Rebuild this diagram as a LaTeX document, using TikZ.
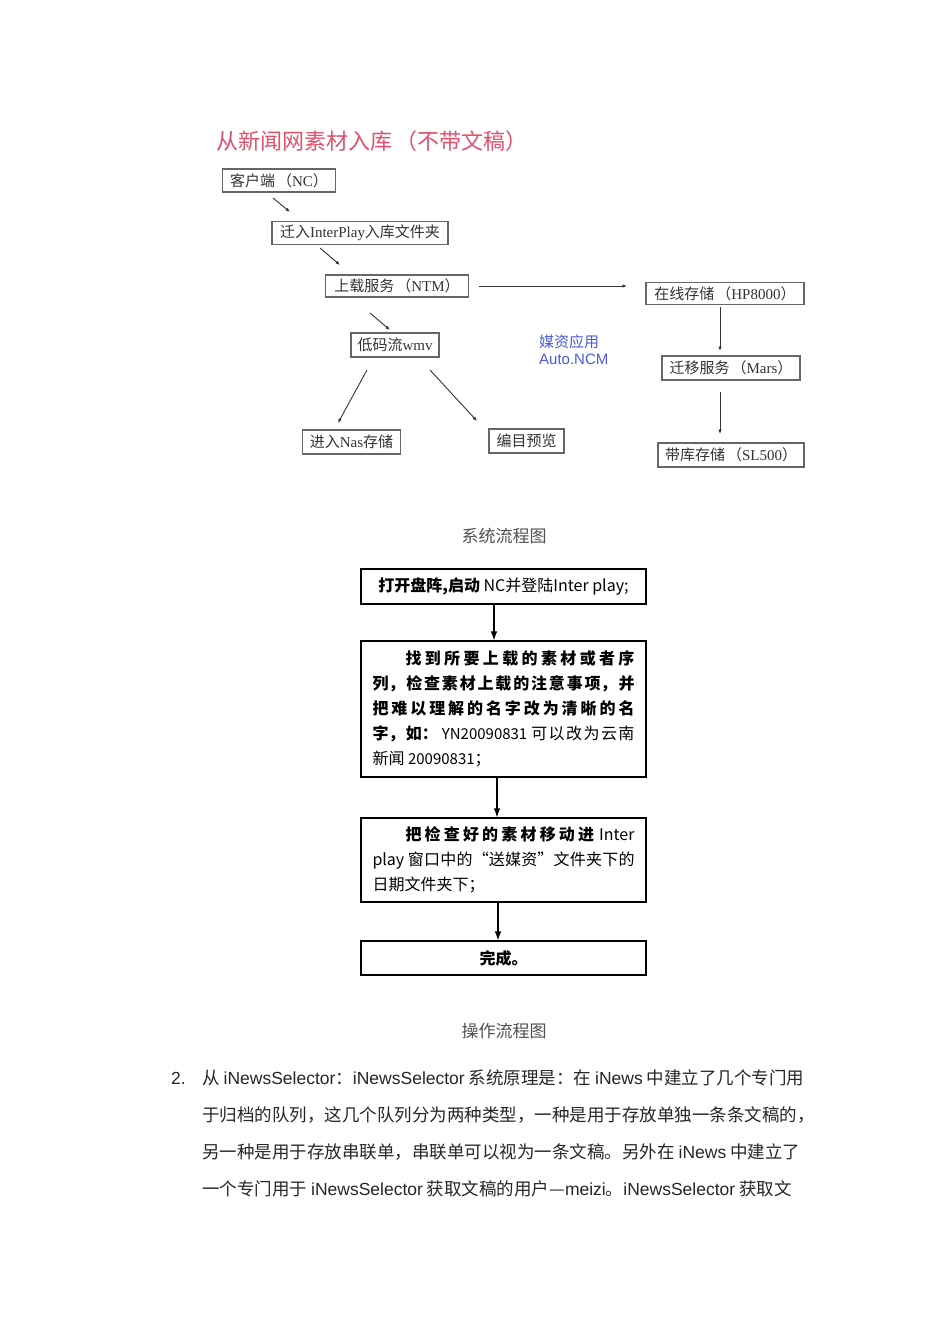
\documentclass[tikz,border=0pt]{standalone}
\usepackage{fontspec}
\setmainfont{Liberation Serif}
\newfontfamily\cjk{Noto Sans CJK SC}
\newfontfamily\lsans{Liberation Sans}
\usetikzlibrary{arrows.meta}
\XeTeXlinebreaklocale "zh"
\XeTeXlinebreakskip=0pt plus 4pt
\definecolor{topgray}{HTML}{333333}
\definecolor{boxgray}{HTML}{666666}
\definecolor{titlered}{HTML}{E2506C}
\definecolor{ncmblue}{HTML}{4A5AE0}
\definecolor{capgray}{HTML}{505050}
\definecolor{bodygray}{HTML}{262626}
\newcommand\enw[1]{{\lsans #1}}
\newcommand\rml[1]{{\rmfamily #1}}
\newcommand\lp{\hspace{2pt}（}
\newcommand\rp{）}
\begin{document}
\begin{tikzpicture}[x=1pt,y=-1pt,
  tbox/.style={draw=boxgray,line width=1.1pt,inner sep=0pt,text=topgray,
    font=\cjk\fontsize{15}{17}\selectfont},
  tarr/.style={draw=topgray,line width=0.9pt,-{Latex[length=4.5pt,width=3.5pt]}},
  fbox/.style={draw=black,line width=1.1pt,inner sep=0pt,minimum width=285pt,
    font=\cjk\fontsize{16}{25}\selectfont},
  ftext/.style={fbox,text width=262pt,align=justify,inner xsep=11.5pt},
  farr/.style={draw=black,line width=1.1pt,-{Latex[length=9pt,width=6.5pt]}},
  captext/.style={text=capgray,font=\cjk\fontsize{17}{20}\selectfont},
  body/.style={anchor=west,inner sep=0pt,text=bodygray,font=\cjk\fontsize{17.5}{20}\selectfont}]
\fill[white] (0,0) rectangle (950,1344);

% ---------- top chart ----------
\node[text=titlered,font=\cjk\fontsize{22}{25}\selectfont] (title) at (372,141) {从新闻网素材入库\hspace{4pt}（不带文稿）};

\node[tbox,minimum width=113pt,minimum height=23pt] (t1) at (279,180.5) {客户端\lp\rml{NC}\rp};
\node[tbox,minimum width=176pt,minimum height=23pt] (t2) at (360,233) {迁入\rml{InterPlay}入库文件夹};
\node[tbox,minimum width=143pt,minimum height=22pt] (t3) at (397,286) {上载服务\lp\rml{NTM}\rp};
\node[tbox,minimum width=158pt,minimum height=22pt] (t4) at (725,293.5) {在线存储\lp\rml{HP8000}\rp};
\node[tbox,minimum width=138pt,minimum height=24pt] (t5) at (731,368) {迁移服务\lp\rml{Mars}\rp};
\node[tbox,minimum width=146pt,minimum height=24pt] (t6) at (731,455) {带库存储\lp\rml{SL500}\rp};
\node[tbox,minimum width=88pt,minimum height=24pt] (t7) at (395,345) {低码流\rml{wmv}};
\node[tbox,minimum width=98pt,minimum height=24pt] (t8) at (351.5,442) {进入\rml{Nas}存储};
\node[tbox,minimum width=75pt,minimum height=24pt] (t9) at (526.5,441) {编目预览};
\node[anchor=west,inner sep=0pt,align=left,text=ncmblue,font=\cjk\fontsize{15}{17}\selectfont] (ncm) at (539,349.5) {媒资应用\\\enw{Auto.NCM}};

\coordinate (a1s) at (273,198); \coordinate (a1e) at (290,212);
\coordinate (a2s) at (320,248); \coordinate (a2e) at (340,265);
\coordinate (a3s) at (370,313); \coordinate (a3e) at (390,330);
\coordinate (a4s) at (479,286); \coordinate (a4e) at (627,286);
\coordinate (a5s) at (720,307); \coordinate (a5e) at (720,351);
\coordinate (a6s) at (720,392); \coordinate (a6e) at (720,434);
\coordinate (a7s) at (367,370); \coordinate (a7e) at (338,423);
\coordinate (a8s) at (430,370); \coordinate (a8e) at (477,421);
\draw[tarr] (a1s) -- (a1e);
\draw[tarr] (a2s) -- (a2e);
\draw[tarr] (a3s) -- (a3e);
\draw[tarr] (a4s) -- (a4e);
\draw[tarr] (a5s) -- (a5e);
\draw[tarr] (a6s) -- (a6e);
\draw[tarr] (a7s) -- (a7e);
\draw[tarr] (a8s) -- (a8e);

\node[captext] (cap1) at (504,536) {系统流程图};

% ---------- operation flow ----------
\node[fbox,minimum height=35pt] (b1) at (503.5,586.5)
  {{\bfseries 打开盘阵,启动} NC并登陆Inter play;};
\node[ftext,minimum height=136pt] (b2) at (503.5,709)
  {\noindent\hspace*{33pt}{\bfseries 找到所要上载的素材或者序}\linebreak
   {\bfseries 列，检查素材上载的注意事项，并}\linebreak
   {\bfseries 把难以理解的名字改为清晰的名}\linebreak
   {\bfseries 字，如：}{\fontsize{15}{25}\selectfont\ YN20090831 }可以改为云南\linebreak
   新闻 {\fontsize{15}{25}\selectfont 20090831}；};
\node[ftext,minimum height=84pt] (b3) at (503.5,860)
  {\noindent\hspace*{33pt}{\bfseries 把检查好的素材移动进}\ Inter\linebreak
   play 窗口中的“送媒资”文件夹下的\linebreak
   日期文件夹下；};
\node[fbox,minimum height=34pt] (b4) at (503.5,958) {{\bfseries 完成。}};

\draw[farr] ([xshift=-9.5pt]b1.south) -- ([xshift=-9.5pt]b2.north);
\draw[farr] ([xshift=-6.5pt]b2.south) -- ([xshift=-6.5pt]b3.north);
\draw[farr] ([xshift=-5.5pt]b3.south) -- ([xshift=-5.5pt]b4.north);

\node[captext] (cap2) at (504,1031) {操作流程图};

% ---------- paragraph ----------
\node[body] (num) at (171,1078) {\enw{2.}};
\node[body] (p1) at (202,1078) {从 \enw{iNewsSelector}：\enw{iNewsSelector} 系统原理是：在 \enw{iNews} 中建立了几个专门用};
\node[body] (p2) at (202,1115) {于归档的队列，这几个队列分为两种类型，一种是用于存放单独一条条文稿的，};
\node[body] (p3) at (202,1152) {另一种是用于存放串联单，串联单可以视为一条文稿。另外在 \enw{iNews} 中建立了};
\node[body] (p4) at (202,1189) {一个专门用于 \enw{iNewsSelector} 获取文稿的用户—\enw{meizi}。\enw{iNewsSelector} 获取文};
\end{tikzpicture}
\end{document}
